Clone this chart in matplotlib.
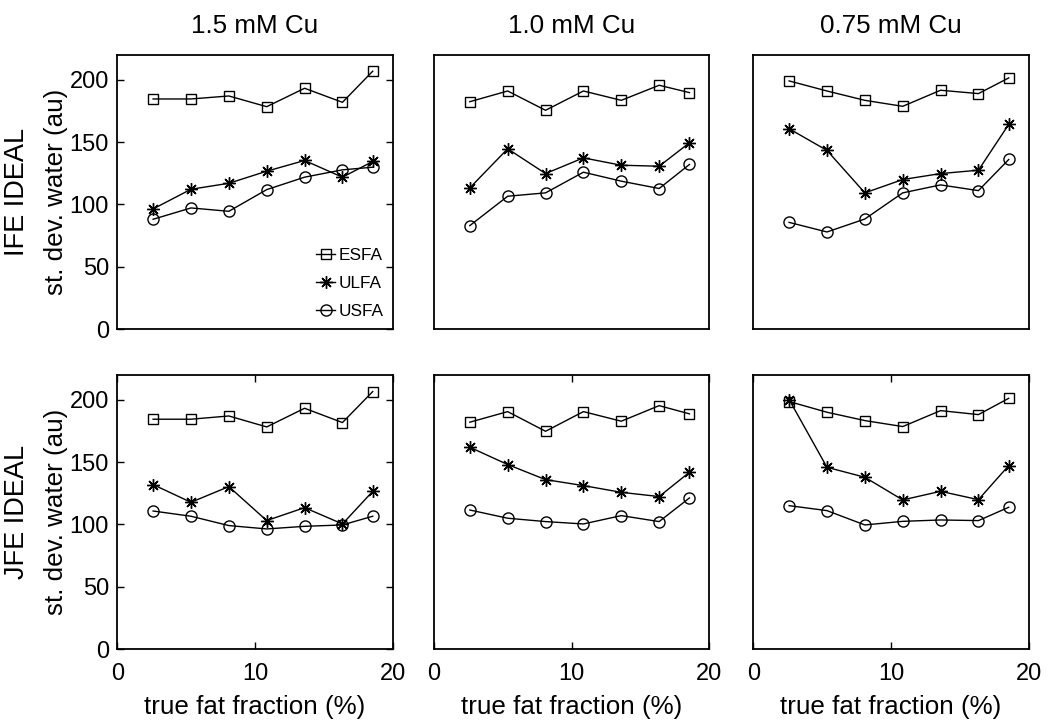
import numpy as np
import matplotlib
matplotlib.use("Agg")
import matplotlib.pyplot as plt

plt.rcParams['font.family'] = ['Liberation Sans', 'DejaVu Sans']

# true fat fraction (%) of the phantom vials
fat_fraction = [2.6, 5.35, 8.1, 10.85, 13.6, 16.35, 18.55]

concentrations = ['1.5 mM Cu', '1.0 mM Cu', '0.75 mM Cu']
methods = ['IFE IDEAL', 'JFE IDEAL']
series_names = ['ESFA', 'ULFA', 'USFA']

# IFE IDEAL, one list per concentration
ife_esfa = [[184.7, 184.7, 187.1, 178.5, 193.3, 182.0, 207.0],
            [182.5, 191.1, 175.6, 191.1, 183.6, 195.7, 189.8],
            [199.2, 191.1, 183.6, 178.8, 191.7, 189.0, 201.6]]
ife_ulfa = [[96.4, 112.2, 117.0, 126.7, 135.3, 121.9, 134.5],
            [113.3, 144.7, 124.8, 137.4, 131.5, 130.7, 149.5],
            [160.8, 143.4, 109.3, 120.0, 124.8, 127.5, 164.3]]
ife_usfa = [[88.1, 97.2, 94.5, 111.9, 121.9, 127.8, 129.9],
            [83.0, 106.6, 109.3, 125.9, 118.7, 112.8, 132.1],
            [85.6, 77.9, 88.3, 109.3, 115.7, 111.1, 136.1]]

# JFE IDEAL
jfe_esfa = [[184.5, 184.5, 187.1, 178.3, 193.3, 181.8, 206.7],
            [182.1, 190.6, 174.8, 190.6, 182.9, 195.4, 188.8],
            [198.7, 190.1, 183.4, 178.6, 191.4, 188.2, 201.3]]
jfe_ulfa = [[132.0, 117.8, 130.4, 103.1, 113.5, 100.4, 126.6],
            [162.0, 148.1, 136.0, 131.2, 125.8, 122.4, 141.9],
            [200.3, 145.9, 137.9, 119.7, 126.6, 119.9, 147.3]]
jfe_usfa = [[110.8, 106.6, 99.1, 96.4, 98.5, 99.6, 106.6],
            [111.6, 105.0, 102.3, 100.4, 107.1, 102.3, 121.3],
            [115.1, 111.1, 99.6, 102.5, 103.6, 103.1, 113.8]]

all_data = [[ife_esfa, ife_ulfa, ife_usfa], [jfe_esfa, jfe_ulfa, jfe_usfa]]
markers = ['s', (8, 2, 0), 'o']
msizes = [7.5, 9, 8]

fig = plt.figure(figsize=(10.5, 7.21), dpi=100)

W, H = 1050.0, 721.0
lefts = [117.3, 434.0, 753.3]
ax_w = 275.4
tops = [55.0, 375.0]
ax_h = 274.0

tick_fs = 17
lab_fs = 18.7

for r in range(2):
    for c in range(3):
        ax = fig.add_axes([lefts[c] / W, 1 - (tops[r] + ax_h) / H, ax_w / W, ax_h / H])
        for s in range(3):
            ax.plot(fat_fraction, all_data[r][s][c], color='black', lw=1.0,
                    marker=markers[s], ms=msizes[s], mfc='none', mec='black',
                    mew=1.0, label=series_names[s])
        ax.set_xlim(0, 20)
        ax.set_ylim(0, 220)
        ax.set_xticks([0, 10, 20])
        ax.set_yticks([0, 50, 100, 150, 200])
        ax.tick_params(direction='in', length=5, width=1, top=True, right=True,
                       labelsize=tick_fs, pad=6)
        ax.tick_params(axis='x', pad=10)
        for sp in ax.spines.values():
            sp.set_linewidth(1.3)
        if r == 0:
            ax.tick_params(axis='x', length=0, labelbottom=False)
            ax.set_title(concentrations[c], fontsize=lab_fs, pad=16)
        else:
            ax.set_xlabel('true fat fraction (%)', fontsize=lab_fs, labelpad=7)
        if c > 0:
            ax.tick_params(axis='y', length=0, labelleft=False)
        if r == 0 and c == 0:
            ax.legend(loc='lower right', bbox_to_anchor=(1.005, 0.0), frameon=False,
                      fontsize=12.4, handlelength=1.1, handletextpad=0.2,
                      labelspacing=0.75, borderaxespad=0.2)

# row labels
for r in range(2):
    yc = 1 - (tops[r] + ax_h / 2) / H
    fig.text(17.5 / W, yc, methods[r], rotation=90, fontsize=19.5,
             ha='center', va='center')
    fig.text(56 / W, yc, 'st. dev. water (au)', rotation=90, fontsize=lab_fs,
             ha='center', va='center')

fig.savefig('out.png', dpi=100)
